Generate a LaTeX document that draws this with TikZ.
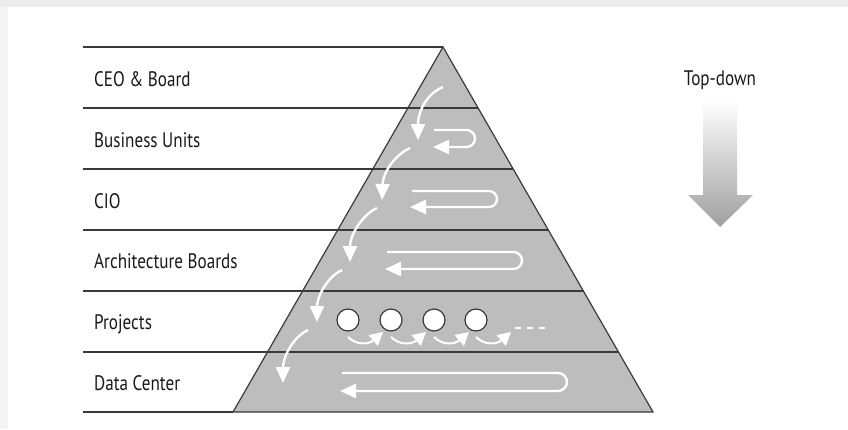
\documentclass[tikz,border=0pt]{standalone}
\usepackage{fontspec}
\newfontfamily\labelfont{PT Sans}[FakeStretch=0.815]
\usetikzlibrary{arrows.meta}
\definecolor{pyrgray}{HTML}{BDBDBD}
\definecolor{edgegray}{HTML}{3A3A3A}
\tikzset{
    layerlabel/.style={anchor=base west, inner sep=0pt, font=\labelfont\fontsize{21}{21}\selectfont, text=black!90},
    flow/.style={white, line width=2.4pt, -{Triangle[width=14pt,length=16pt]}},
    smallflow/.style={white, line width=2pt, -{Triangle[width=14pt,length=13pt]}},
    edge/.style={edgegray, line width=1.2pt}
}
\begin{document}
\begin{tikzpicture}[x=1pt,y=-1pt]
    \useasboundingbox (0,0) rectangle (848,429);
    \fill[gray!15] (0,0) rectangle (848,7);
    \fill[gray!9] (0,7) rectangle (8,429);
    \begin{scope}
        % pyramid and layer lines
        \draw[edge, fill=pyrgray] (443,47) -- (653,412) -- (233,412) -- cycle;
        \draw[edge] (83,47) -- (443,47);
        \draw[edge] (83,412) -- (233,412);
        \foreach \y in {108,169,230,291,352}
            \draw[edge] (83,\y) -- ({443+0.5753*(\y-47)},\y);

        \node[layerlabel] (ceo) at (94,86) {CEO \& Board};
        \node[layerlabel] (units) at (94,147) {Business Units};
        \node[layerlabel] (cio) at (94,208) {CIO};
        \node[layerlabel] (archboards) at (94,268) {Architecture Boards};
        \node[layerlabel] (projects) at (94,329) {Projects};
        \node[layerlabel] (datacenter) at (94,390) {Data Center};

        % downward flow
        \draw[flow] (443,87) .. controls (428,93) and (418,110) .. (418,140);
        \draw[flow] (410,148) .. controls (395,155) and (383,172) .. (382,200);
        \draw[flow] (377,208) .. controls (362,215) and (350,235) .. (350,262);
        \draw[flow] (342,270) .. controls (327,277) and (317,297) .. (317,322);
        \draw[flow] (308,330) .. controls (293,337) and (283,357) .. (283,383);

        % loops inside the layers
        \draw[flow, rounded corners=8.5pt] (434,130) -- (475,130) -- (475,147) -- (433,147);
        \draw[flow, rounded corners=8pt] (412,191) -- (497,191) -- (497,207) -- (410,207);
        \draw[flow, rounded corners=8.5pt] (387,252) -- (522,252) -- (522,269) -- (385,269);
        \draw[flow, rounded corners=9pt] (342,373) -- (567,373) -- (567,391) -- (340,391);

        % projects
        \foreach \c in {348,391,434,476} {
            \draw[smallflow] (\c,337) .. controls (\c+8,345) and (\c+20,345) .. (\c+35,332);
            \draw[edge, fill=white] (\c,320) circle[radius=11pt];
        }
        \draw[white, line width=2.5pt, dash pattern=on 6pt off 6pt] (515,328) -- (548,328);

        % top-down arrow
        \node[anchor=base, inner sep=0pt, font=\labelfont\fontsize{21}{21}\selectfont, text=black!90] (topdown) at (720,85) {Top-down};
        \shade[top color=white, bottom color=gray!75] (703,100) -- (737,100) -- (737,195) -- (753,195) -- (720,227) -- (688,195) -- (703,195) -- cycle;
    \end{scope}
\end{tikzpicture}
\end{document}
